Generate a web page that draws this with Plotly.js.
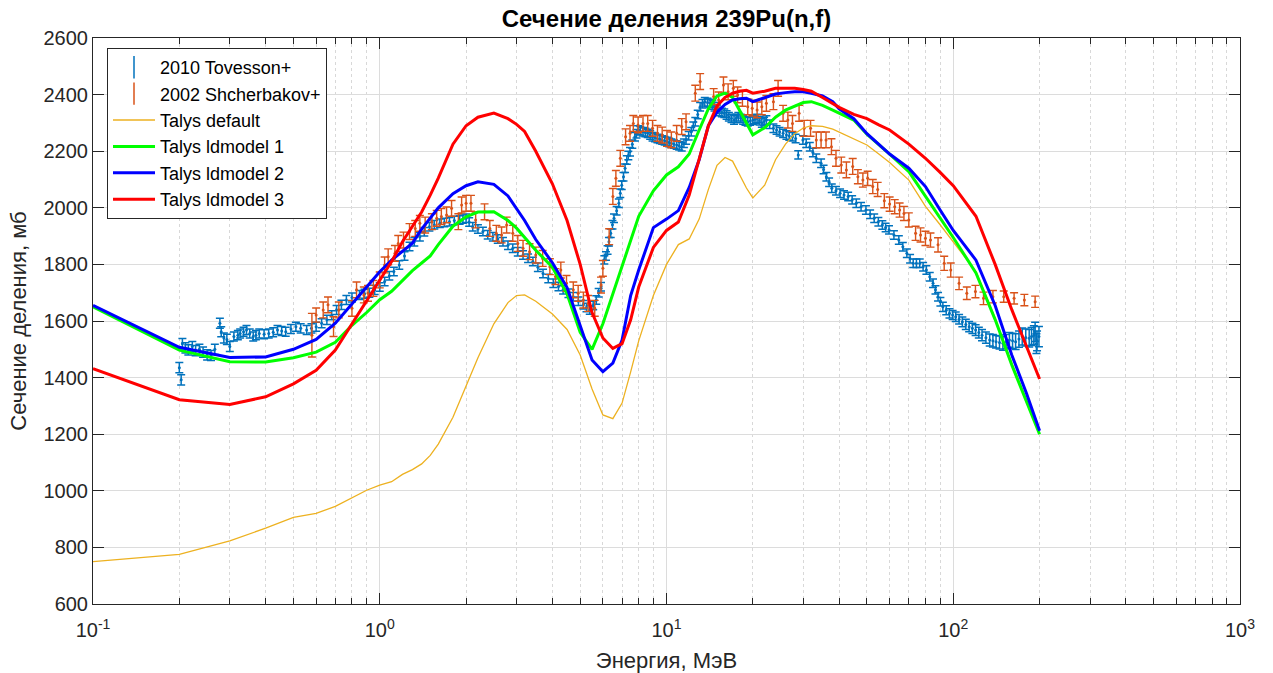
<!DOCTYPE html>
<html><head><meta charset="utf-8">
<script src="https://cdn.plot.ly/plotly-3.0.1.min.js"></script>
<style>html,body{margin:0;padding:0;background:#fff}#chart{width:1273px;height:673px}</style>
</head><body><div id="chart"></div>
<script>
// ---- Experimental data: 2010 Tovesson+ ----
const tovE = [
 0.200,0.203,0.205,0.210,0.215,0.222,0.228,0.235,0.242,0.250,0.258,0.266,0.277,0.280,0.286,0.293,0.300,
 0.310,0.320,0.326,0.335,0.343,0.352,0.362,0.370,0.380,0.395,0.410,0.425,0.440,0.455,0.470,0.490,0.510,0.530,0.556,0.578,0.600,0.627,0.654,0.680,0.707,0.735,0.765,0.800,0.850,0.885,0.920,0.960,
 1.000,1.040,1.080,1.120,1.170,1.220,1.270,1.320,1.380,1.430,1.490,1.550,1.620,1.680,1.750,1.820,1.900,1.950,2.000,2.050,2.110,2.200,2.290,2.380,2.480,2.580,2.690,2.800,2.910,3.030,3.160,3.290,3.420,3.560,3.710,3.870,4.030,4.200,4.360,4.550,4.730,4.930,5.130,5.260,5.400,5.550,5.690,5.800,5.910,
 6.070,6.150,6.230,6.300,6.390,6.480,6.560,6.700,6.820,6.900,6.980,7.080,7.170,7.270,7.360,7.460,7.600,7.760,7.860,7.960,8.100,8.280,8.440,8.600,8.770,8.940,9.120,9.300,9.480,9.660,9.850,10.04,10.22,10.40,10.62,10.85,11.07,11.30,
 11.50,11.70,11.95,12.20,12.40,12.60,12.85,13.10,13.35,13.60,13.90,14.20,14.45,14.70,15.00,15.30,15.60,15.90,16.20,16.50,16.85,17.20,17.50,17.80,18.15,18.50,18.85,19.20,19.60,20.00,20.35,20.70,21.10,21.50,21.90,22.30,22.90,23.60,24.20,24.80,25.50,26.20,26.80,27.50,28.20,
 28.80,29.90,30.70,31.60,32.40,33.30,34.60,35.30,36.10,36.90,37.70,39.00,40.30,41.60,43.00,44.40,45.90,47.70,49.60,51.30,53.00,54.80,56.60,58.10,59.70,62.10,64.60,66.70,68.90,70.70,72.50,74.40,76.40,78.50,80.60,82.80,85.00,86.70,88.50,90.20,92.00,94.50,97.00,99.50,
 102.0,104.8,107.6,110.6,113.6,116.6,119.7,122.8,126.0,130.0,134.0,137.5,141.0,145.0,149.0,153.0,157.0,161.0,165.0,169.5,174.0,179.0,184.0,187.5,191.0,193.0,195.0,196.0,199.0];
const tovY = [
 1435,1392,1520,1505,1498,1510,1495,1500,1490,1480,1478,1500,1592,1562,1540,1535,1510,
 1545,1550,1556,1562,1568,1556,1545,1550,1556,1553,1556,1560,1568,1565,1562,1572,1580,1574,1568,1574,1580,1592,1604,1620,1639,1657,1674,1683,1692,1696,1700,1710,
 1720,1740,1760,1775,1798,1830,1863,1880,1898,1915,1933,1940,1945,1948,1951,1955,1957,1960,1963,1950,1933,1925,1916,1905,1898,1890,1880,1868,1857,1845,1833,1822,1810,1790,1768,1750,1733,1722,1710,1698,1686,1670,1657,1648,1639,1655,1674,1700,1721,
 1816,1830,1851,1880,1910,1940,1963,1990,2016,2051,2080,2110,2140,2169,2185,2198,2225,2251,2262,2275,2272,2269,2266,2263,2257,2251,2248,2245,2242,2240,2237,2234,2231,2228,2225,2222,2219,2216,
 2228,2240,2255,2269,2288,2304,2330,2357,2368,2375,2372,2369,2363,2357,2348,2340,2337,2334,2328,2322,2316,2310,2316,2322,2316,2310,2307,2304,2307,2310,2313,2316,2308,2300,2305,2310,2295,2281,2275,2269,2263,2257,2254,2251,2245,
 2187,2240,2228,2216,2195,2175,2157,2135,2110,2090,2069,2060,2051,2045,2040,2028,2016,2004,1992,1977,1963,1951,1939,1930,1922,1904,1886,1862,1839,1820,1804,1804,1804,1792,1780,1756,1733,1710,1686,1668,1650,1638,1627,1621,
 1615,1606,1597,1588,1580,1574,1568,1559,1550,1541,1533,1530,1527,1524,1521,1527,1533,1530,1527,1536,1545,1542,1539,1545,1550,1562,1520,1530,1545];
const tovErr = [
 18,18,18,18,18,18,18,18,18,18,18,18,18,18,18,18,18,
 16,16,16,16,16,16,16,16, 16,16,16,16,16,16,16,16, 16,16,16,16,16,16,16,16, 16,16,16,16,16,16,16,16,
 15,15,15,15,15,15,15,15, 15,15,15,15,15,15,15,15, 15,15,15,15,15,15,15,15, 15,15,15,15,15,15,15,15, 15,15,15,15,15,15,15,15, 15,15,15,15,15,15,15,15, 15,
 15,15,15,15,15,15,15,15, 15,15,15,15,15,15,15,15, 15,15,15,15,15,15,15,15, 15,15,15,15,15,15,15,15, 15,15,15,15,15,15,
 15,15,15,15,15,15,15,15, 15,15,15,15,15,15,15,15, 15,15,15,15,15,15,15,15, 15,15,15,15,15,15,15,15, 15,15,15,15,15,15,15,15, 15,15,15,15,15,
 15,15,15,15,15,15,15,15, 15,15,15,15,15,15,15,15, 15,15,15,15,15,15,15,15, 15,15,15,15,15,15,15,15, 15,15,15,15,15,15,15,15, 16,16,16,16,
 17,17,17,18,18,18,19,19,20,20,21,22,22,23,24,25,26,27,28,29,30,30,31,32,33,34,35,35,36];

// ---- Experimental data: 2002 Shcherbakov+ ----
const shcE = [0.58,0.60,0.635,0.66,0.69,0.72,0.80,0.83,0.88,0.91,0.95,1.00,1.04,1.07,1.13,1.16,1.21,1.27,1.33,1.38,1.44,1.52,1.58,1.64,1.71,1.78,1.88,1.93,2.00,2.08,2.16,2.32,2.42,2.55,2.66,2.77,2.91,3.03,3.16,3.33,3.50,3.70,3.92,4.10,4.28,4.48,4.73,4.92,5.13,5.33,5.62,5.91,6.00,6.31,6.50,6.66,6.90,7.20,7.46,7.66,7.96,8.28,8.60,8.94,9.30,9.66,10.04,10.40,10.85,11.30,11.70,12.60,13.10,14.60,15.20,15.80,16.40,17.10,17.70,18.40,19.20,19.90,20.70,21.50,22.30,23.60,24.50,25.50,26.50,27.50,29.00,30.20,31.80,33.30,34.60,36.00,37.60,39.00,40.70,42.40,44.60,46.50,48.40,50.30,52.40,54.50,57.50,60.00,62.50,65.00,67.30,70.00,73.90,76.90,80.00,83.30,88.50,93.00,98.00,104.8,111.5,119.5,127.5,137.5,150.0,163.0,177.0,193.0];
const shcY = [1550,1621,1639,1657,1580,1639,1645,1710,1692,1698,1715,1745,1798,1827,1839,1874,1886,1916,1927,1945,1939,1951,1963,1969,1975,1998,1951,2010,2016,2016,1957,1986,1927,1910,1904,1939,1910,1874,1857,1845,1833,1821,1792,1757,1780,1733,1710,1698,1674,1662,1645,1727,1786,1898,2040,2104,2175,2251,2263,2298,2293,2298,2298,2281,2263,2257,2245,2240,2263,2287,2304,2405,2446,2393,2381,2434,2410,2422,2399,2387,2357,2352,2346,2357,2369,2375,2422,2334,2310,2298,2334,2281,2281,2240,2240,2240,2216,2175,2151,2134,2146,2110,2098,2104,2075,2065,2025,2013,2004,1992,1980,1957,1910,1904,1892,1886,1869,1804,1780,1733,1698,1704,1680,1686,1686,1680,1674,1668];
const shcErr = [77,25,28,28,35,28,28,28,28,28,28,28,28,28,28,28,28,28,28,28,28,28,28,28,28,28,28,28,28,28,28,28,28,28,28,28,28,28,28,28,28,28,28,28,28,28,28,28,28,28,28,28,28,28,28,28,28,28,28,28,28,28,28,28,28,28,28,28,28,28,28,28,28,28,28,28,28,28,28,28,28,28,28,28,28,28,28,28,28,28,28,28,28,28,28,28,28,28,28,28,28,25,25,25,25,25,25,25,25,25,25,25,25,25,25,25,25,25,25,22,22,22,22,22,20,20,20,20];

// ---- TALYS calculations ----
const talysE = [0.1,0.2,0.3,0.4,0.5,0.6,0.7,0.8,0.9,1.0,1.1,1.2,1.3,1.4,1.5,1.6,1.8,2.0,2.2,2.5,2.8,3.0,3.2,3.5,4.0,4.5,5.0,5.5,6.0,6.5,7.0,7.5,8,9,10,11,12,13,14,15,16,17,18,19,20,22,24,26,28,30,32,35,38,40,45,50,55,60,70,80,90,100,120,140,160,180,200];
const talysDefault = [750,775,823,868,906,920,945,975,1002,1020,1032,1058,1075,1095,1125,1165,1260,1370,1470,1590,1665,1690,1692,1670,1625,1570,1480,1360,1268,1255,1310,1420,1530,1690,1800,1870,1890,1960,2065,2150,2178,2165,2118,2070,2035,2080,2170,2225,2262,2282,2290,2288,2278,2268,2245,2222,2190,2160,2098,2005,1940,1880,1775,1610,1450,1320,1205];
const talysLd1 = [1650,1497,1456,1455,1470,1490,1525,1585,1630,1675,1705,1745,1778,1805,1830,1870,1935,1968,1985,1986,1955,1928,1895,1850,1790,1695,1560,1500,1590,1698,1795,1886,1970,2060,2116,2145,2190,2275,2350,2395,2405,2390,2345,2299,2258,2283,2320,2345,2360,2372,2375,2362,2345,2335,2310,2260,2225,2190,2128,2040,1960,1895,1770,1605,1445,1315,1200];
const talysLd2 = [1655,1507,1471,1473,1500,1535,1592,1660,1720,1774,1815,1845,1875,1925,1966,2000,2050,2078,2092,2083,2042,1995,1955,1888,1806,1718,1585,1462,1421,1451,1533,1690,1780,1930,1960,1990,2072,2170,2290,2338,2365,2381,2385,2387,2375,2390,2402,2407,2410,2410,2405,2395,2375,2350,2315,2262,2225,2190,2140,2075,1992,1920,1815,1655,1480,1345,1212];
const talysLd3 = [1432,1322,1305,1332,1378,1426,1497,1590,1668,1745,1810,1880,1935,1985,2045,2105,2225,2290,2320,2335,2315,2295,2270,2200,2085,1955,1800,1630,1540,1503,1520,1604,1720,1860,1920,1950,2045,2170,2290,2360,2390,2405,2412,2415,2405,2412,2422,2422,2422,2418,2412,2390,2367,2355,2330,2315,2293,2275,2225,2175,2125,2078,1970,1800,1640,1510,1395];

// ---- Axis ticks ----
const xTickVals = [0.1,1,10,100,1000];
const xTickText = ['10<sup>-1</sup>','10<sup>0</sup>','10<sup>1</sup>','10<sup>2</sup>','10<sup>3</sup>'];
const minorVals = [];
for (const d of [0.1,1,10,100]) for (let k = 2; k <= 9; k++) minorVals.push(+(k*d).toPrecision(3));

const FONT = 'Liberation Sans, Arial, Helvetica, sans-serif';
const AX = '#262626';
const cTov = '#0072BD', cShc = '#D95319';

const traces = [
  {x:[null], y:[null], type:'scatter', mode:'markers', name:'2010 Tovesson+',
   marker:{symbol:'line-ns', size:16, line:{color:cTov, width:1.5}}},
  {x:[null], y:[null], type:'scatter', mode:'markers', name:'2002 Shcherbakov+',
   marker:{symbol:'line-ns', size:16, line:{color:cShc, width:1.5}}},
  {x:tovE, y:tovY, type:'scatter', mode:'markers', showlegend:false, name:'2010 Tovesson+',
   marker:{color:cTov, size:3},
   error_y:{type:'data', array:tovErr, visible:true, color:cTov, thickness:1.5, width:4}},
  {x:shcE, y:shcY, type:'scatter', mode:'markers', showlegend:false, name:'2002 Shcherbakov+',
   marker:{color:cShc, size:3},
   error_y:{type:'data', array:shcErr, visible:true, color:cShc, thickness:1.4, width:4}},
  {x:talysE, y:talysDefault, type:'scatter', mode:'lines', name:'Talys default',
   line:{color:'#EDB120', width:1.3}},
  {x:talysE, y:talysLd1, type:'scatter', mode:'lines', name:'Talys ldmodel 1',
   line:{color:'#00FF00', width:3}},
  {x:talysE, y:talysLd2, type:'scatter', mode:'lines', name:'Talys ldmodel 2',
   line:{color:'#0000FF', width:3}},
  {x:talysE, y:talysLd3, type:'scatter', mode:'lines', name:'Talys ldmodel 3',
   line:{color:'#FF0000', width:3}}
];

const layout = {
  width:1273, height:673,
  paper_bgcolor:'#ffffff', plot_bgcolor:'#ffffff',
  margin:{l:93, r:33, t:38, b:69},
  font:{family:FONT, color:AX},
  title:{text:'<b>Сечение деления 239Pu(n,f)</b>', font:{family:FONT, size:24, color:'#000'},
         x:0.5, xref:'paper', xanchor:'center', y:1-19/673, yref:'container', yanchor:'middle'},
  xaxis:{type:'log', range:[-1,3], tickmode:'array', tickvals:xTickVals, ticktext:xTickText,
         showline:true, linecolor:AX, linewidth:1, mirror:'ticks',
         ticks:'inside', ticklen:11, tickcolor:AX, tickfont:{size:20, color:AX, family:FONT},
         ticklabelstandoff:8,
         showgrid:true, gridcolor:'#dcdcdc', gridwidth:1, zeroline:false,
         minor:{tickmode:'array', tickvals:minorVals, ticks:'inside', ticklen:6, tickcolor:AX,
                showgrid:true, gridcolor:'#d8d8d8', griddash:'dot', gridwidth:1},
         title:{text:'Энергия, МэВ', font:{size:22, color:AX, family:FONT}, standoff:14},
         automargin:false},
  yaxis:{range:[600,2600], tickmode:'linear', tick0:600, dtick:200,
         showline:true, linecolor:AX, linewidth:1, mirror:'ticks',
         ticks:'inside', ticklen:11, tickcolor:AX, tickfont:{size:20, color:AX, family:FONT},
         showgrid:true, gridcolor:'#dcdcdc', gridwidth:1, zeroline:false,
         title:{text:'Сечение деления, мб', font:{size:22, color:AX, family:FONT}, standoff:10},
         automargin:false},
  legend:{x:(107-93)/1147, y:1-(48-38)/566, xanchor:'left', yanchor:'top',
          bgcolor:'#ffffff', bordercolor:AX, borderwidth:1, itemwidth:42,
          font:{size:18, color:'#000', family:FONT}, traceorder:'normal'},
  showlegend:true
};

Plotly.newPlot('chart', traces, layout, {displayModeBar:false, staticPlot:true});
</script></body></html>
